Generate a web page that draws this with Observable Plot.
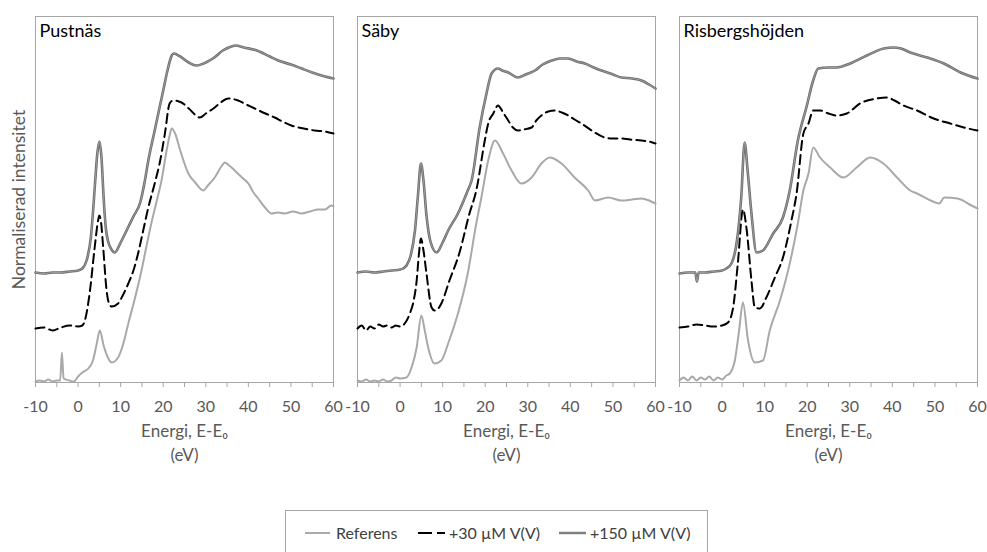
<!DOCTYPE html>
<html>
<head>
<meta charset="utf-8">
<script src="https://cdn.jsdelivr.net/npm/d3@7"></script>
<script src="https://cdn.jsdelivr.net/npm/@observablehq/plot@0.6"></script>
<style>
  html, body { margin: 0; padding: 0; background: #ffffff; width: 987px; height: 552px; overflow: hidden; }
  #wrap { position: relative; width: 987px; height: 552px; }
  #legend { position: absolute; left: 285px; top: 510px; width: 423px; height: 60px; border: 1px solid #a6a6a6; box-sizing: border-box; font-family: Lato, 'Open Sans', sans-serif; font-size: 16px; color: #404040; }
  .item { position: absolute; top: 12px; display: flex; align-items: center; white-space: nowrap; }
  .item svg { margin-right: 3px; }
</style>
</head>
<body>
<div id="wrap"></div>
<script>
const sites = ["Pustnäs", "Säby", "Risbergshöjden"];
const seriesNames = ["Referens", "+30 µM V(V)", "+150 µM V(V)"];
const xTicks = [-10, -5, 0, 5, 10, 15, 20, 25, 30, 35, 40, 45, 50, 55, 60];
const xTickLabels = ["-10", "", "0", "", "10", "", "20", "", "30", "", "40", "", "50", "", "60"];
const xTitle = "Energi, E-E₀\n(eV)";
const yTitle = "Normaliserad intensitet";

// Pustnäs
const pustnasRef = [[-10,0.01],[-9,0.02],[-8,0.01],[-7,0.03],[-6,0.01],[-5,0.02],[-4.2,0.02],[-3.8,0.30],[-3.4,0.04],[-2,0.02],[-1,0.01],[0,0.06],[1,0.10],[2.4,0.14],[3.5,0.22],[4.3,0.37],[5.1,0.52],[6,0.37],[7,0.25],[7.9,0.20],[9.4,0.25],[10.5,0.37],[11.8,0.59],[13.4,0.85],[14.9,1.12],[16,1.35],[17.2,1.59],[18.5,1.82],[19.6,2.02],[20.8,2.32],[21.5,2.47],[22,2.54],[22.8,2.49],[24,2.32],[25.9,2.09],[27.5,2.00],[29.4,1.92],[30.5,1.97],[32.1,2.05],[33.5,2.15],[34.5,2.20],[35.5,2.17],[36.8,2.12],[38.5,2.05],[40,1.99],[41.2,1.90],[42.3,1.84],[43.9,1.75],[45.4,1.69],[47,1.70],[48.5,1.69],[50.5,1.71],[52.5,1.69],[54.5,1.71],[56.4,1.73],[58,1.73],[59.5,1.77],[60,1.76]];
const pustnasV30 = [[-10,0.54],[-8,0.55],[-6,0.52],[-4,0.55],[-2,0.57],[0,0.56],[1,0.57],[1.6,0.62],[2.8,0.92],[3.9,1.35],[4.7,1.62],[5,1.67],[5.4,1.60],[5.9,1.35],[6.7,0.92],[7.5,0.77],[7.9,0.76],[9.4,0.79],[10.5,0.87],[11.8,0.99],[13,1.12],[14.1,1.29],[15.3,1.52],[16.5,1.75],[18,1.99],[19.2,2.20],[20.4,2.49],[21.5,2.79],[22.3,2.82],[24.3,2.80],[26,2.74],[28.6,2.65],[30,2.69],[32.1,2.75],[33.5,2.80],[35.3,2.84],[37.6,2.82],[39.5,2.78],[41.5,2.74],[44,2.69],[46.2,2.65],[48,2.61],[50.1,2.57],[53,2.54],[55.6,2.52],[58,2.51],[60,2.49]];
const pustnasV150 = [[-10,1.10],[-8,1.09],[-6,1.10],[-4,1.10],[-2,1.11],[0,1.12],[1,1.14],[2,1.22],[3,1.45],[3.5,1.70],[4,2.00],[4.5,2.28],[5,2.41],[5.5,2.25],[6,1.85],[6.5,1.55],[7,1.42],[8,1.32],[8.6,1.30],[10,1.40],[11.4,1.52],[13,1.66],[14.6,1.80],[15.7,2.02],[16.5,2.22],[18,2.52],[20,2.92],[21,3.12],[22,3.27],[22.5,3.29],[24,3.26],[26,3.20],[27.8,3.17],[30,3.20],[32,3.25],[34,3.32],[36,3.36],[37,3.37],[39,3.35],[42,3.32],[45,3.26],[47,3.22],[50,3.18],[52.5,3.14],[55,3.10],[58,3.06],[60,3.04]];

// Säby
const sabyRef = [[-10,0.02],[-9,0.01],[-8,0.03],[-7,0.01],[-6,0.02],[-5,0.01],[-4,0.03],[-3,0.01],[-2,0.02],[-1,0.05],[0,0.04],[1.5,0.05],[2.7,0.15],[3.9,0.35],[5,0.67],[5.8,0.52],[6.6,0.35],[8.1,0.19],[9.7,0.22],[11.3,0.39],[13.6,0.69],[15.9,1.09],[17.9,1.59],[19.1,1.85],[20.7,2.22],[22.3,2.42],[24.2,2.29],[26.2,2.12],[28.5,1.99],[30.9,2.05],[33.2,2.19],[35.2,2.25],[37.9,2.19],[41,2.05],[44.2,1.92],[45.8,1.82],[48.9,1.85],[52,1.82],[54.5,1.83],[56.7,1.84],[58.5,1.82],[60,1.79]];
const sabyV30 = [[-10,0.54],[-9,0.57],[-8,0.52],[-7,0.56],[-6,0.54],[-5,0.58],[-4,0.56],[-3,0.57],[-2,0.55],[-1,0.57],[0,0.56],[1.1,0.59],[2.3,0.69],[3.2,0.82],[3.9,1.02],[4.4,1.27],[4.9,1.44],[5.5,1.32],[6.2,1.09],[7.4,0.75],[8.1,0.72],[9,0.74],[9.7,0.79],[11.6,1.02],[13.9,1.29],[16.3,1.69],[17.9,1.92],[19.9,2.42],[20.7,2.59],[21.9,2.69],[23,2.77],[24.2,2.70],[25.4,2.62],[26.5,2.55],[27.7,2.52],[29,2.53],[30.9,2.55],[32,2.62],[33.2,2.67],[34.8,2.71],[36.3,2.72],[38,2.70],[39.5,2.67],[41,2.63],[42.6,2.59],[45,2.52],[48.1,2.45],[50,2.44],[52,2.44],[54,2.43],[56.7,2.42],[58.5,2.41],[60,2.39]];
const sabyV150 = [[-10,1.10],[-8,1.11],[-6,1.10],[-4,1.11],[-2,1.12],[0,1.13],[0.7,1.14],[1.5,1.17],[2.5,1.27],[3.5,1.52],[4.2,1.87],[4.9,2.19],[5.5,2.02],[6.2,1.67],[7.2,1.40],[8.6,1.30],[10,1.40],[11.3,1.52],[13.6,1.69],[15.9,1.92],[16.8,2.02],[18.7,2.55],[20.3,2.89],[21.5,3.09],[23,3.14],[24,3.12],[25.4,3.10],[27.7,3.05],[29.5,3.08],[31.7,3.12],[33.5,3.18],[35.6,3.22],[37.5,3.24],[39.5,3.24],[41.5,3.21],[43.4,3.19],[45.5,3.15],[47.3,3.12],[50,3.08],[52,3.05],[54.5,3.04],[56.7,3.02],[58.5,2.98],[60,2.94]];

// Risbergshöjden
const risbRef = [[-10,0.02],[-9,0.05],[-8,0.02],[-7,0.06],[-6,0.02],[-5,0.05],[-4,0.03],[-3,0.06],[-2,0.02],[-1,0.05],[0,0.03],[1,0.07],[1.8,0.09],[3,0.22],[4,0.52],[4.9,0.80],[6.1,0.42],[7.7,0.20],[9.6,0.22],[11.2,0.52],[13.6,0.82],[15.9,1.19],[17.8,1.59],[19.1,1.92],[20.3,2.09],[21.4,2.35],[23,2.25],[25.4,2.15],[28.5,2.05],[31.6,2.15],[34.8,2.25],[37.9,2.19],[41.1,2.05],[44.2,1.92],[45.8,1.89],[49,1.82],[51,1.79],[52.2,1.85],[55.3,1.84],[58.6,1.77],[60,1.74]];
const risbV30 = [[-10,0.55],[-8,0.56],[-6,0.58],[-4,0.57],[-2,0.56],[0,0.57],[1.4,0.60],[2.6,0.75],[3.7,1.19],[4.9,1.73],[5.8,1.52],[6.9,1.02],[7.7,0.75],[8.9,0.74],[10.4,0.85],[12.4,1.05],[14.3,1.25],[16.3,1.62],[17.5,1.89],[19.1,2.49],[20.3,2.59],[21.4,2.72],[23,2.72],[25,2.69],[26.9,2.67],[29.3,2.69],[32.4,2.79],[36.4,2.84],[38.7,2.85],[40.5,2.82],[42.6,2.77],[45.8,2.72],[49.7,2.64],[53.6,2.59],[56.8,2.55],[60,2.52]];
const risbV150 = [[-10,1.09],[-8,1.10],[-6.3,1.10],[-5.9,1.01],[-5.5,1.10],[-4,1.10],[-2,1.11],[0,1.12],[1,1.14],[2.2,1.19],[3.5,1.42],[4.5,1.85],[5.3,2.40],[6,2.12],[6.9,1.69],[8.1,1.30],[9.6,1.32],[12,1.49],[14.3,1.65],[15.9,1.92],[17.8,2.42],[19.8,2.75],[21.4,3.02],[22.6,3.14],[25,3.15],[26.9,3.15],[30.1,3.19],[34,3.27],[38,3.34],[40.3,3.35],[42,3.34],[44.2,3.30],[48.2,3.25],[52.1,3.19],[56,3.10],[60,3.04]];

const curves = [
  [sites[0], seriesNames[0], pustnasRef], [sites[0], seriesNames[1], pustnasV30], [sites[0], seriesNames[2], pustnasV150],
  [sites[1], seriesNames[0], sabyRef], [sites[1], seriesNames[1], sabyV30], [sites[1], seriesNames[2], sabyV150],
  [sites[2], seriesNames[0], risbRef], [sites[2], seriesNames[1], risbV30], [sites[2], seriesNames[2], risbV150]
];
const rows = [];
for (const [site, series, pts] of curves) for (const [e, i] of pts) rows.push({site, series, e, i});
const bySeries = s => rows.filter(r => r.series === s);
const tickLabelOf = new Map(xTicks.map((t, k) => [t, xTickLabels[k]]));

const chart = Plot.plot({
  width: 987,
  height: 500,
  marginLeft: 34,
  marginRight: 10,
  marginTop: 16,
  marginBottom: 118,
  style: {fontFamily: "Lato, 'Open Sans', sans-serif", fontSize: "16px", color: "#595959", background: "#ffffff"},
  fx: {domain: sites, paddingInner: 0.076, paddingOuter: 0, axis: null, label: null},
  x: {domain: [-10, 60]},
  y: {domain: [0, 3.66], axis: null},
  marks: [
    Plot.frame({stroke: "#a6a6a6"}),
    Plot.axisX({ticks: xTicks, tickFormat: d => tickLabelOf.get(d), tickSize: 5, tickPadding: 13, stroke: "#a6a6a6", fill: "#595959", fontSize: 16, label: null}),
    Plot.line(bySeries(seriesNames[0]), {x: "e", y: "i", fx: "site", stroke: "#a9a9a9", strokeWidth: 2, curve: "monotone-x"}),
    Plot.line(bySeries(seriesNames[1]), {x: "e", y: "i", fx: "site", stroke: "#000000", strokeWidth: 2, strokeDasharray: "9,5", curve: "monotone-x"}),
    Plot.line(bySeries(seriesNames[2]), {x: "e", y: "i", fx: "site", stroke: "#6b6b6b", strokeWidth: 2.6, curve: "monotone-x"}),
    Plot.line(bySeries(seriesNames[2]), {x: "e", y: "i", fx: "site", stroke: "#b0b0b0", strokeWidth: 0.7, curve: "monotone-x"}),
    Plot.text(sites, {fx: d => d, text: d => d, frameAnchor: "top-left", textAnchor: "start", lineAnchor: "top", dx: 4, dy: 8, fontSize: 18, fill: "#000000"}),
    Plot.text(sites, {fx: d => d, text: () => xTitle, frameAnchor: "bottom", textAnchor: "middle", lineAnchor: "top", dy: 38, lineHeight: 1.4, fontSize: 17, fill: "#595959"}),
    Plot.text([sites[0]], {fx: d => d, text: () => yTitle, frameAnchor: "left", textAnchor: "middle", lineAnchor: "middle", rotate: -90, dx: -16, fontSize: 17.5, fill: "#595959"})
  ]
});

const wrap = document.getElementById("wrap");
wrap.appendChild(chart);

const legend = document.createElement("div");
legend.id = "legend";
const items = [
  {name: seriesNames[0], left: 19, swatch: '<line x1="0" y1="6" x2="25" y2="6" stroke="#a9a9a9" stroke-width="2"/>'},
  {name: seriesNames[1], left: 132, swatch: '<line x1="0" y1="6" x2="27" y2="6" stroke="#000" stroke-width="2" stroke-dasharray="14,5"/>'},
  {name: seriesNames[2], left: 273, swatch: '<line x1="0" y1="6" x2="27" y2="6" stroke="#6b6b6b" stroke-width="2.4"/><line x1="0" y1="6" x2="27" y2="6" stroke="#b0b0b0" stroke-width="0.6"/>'}
];
for (const it of items) {
  const d = document.createElement("div");
  d.className = "item";
  d.style.left = it.left + "px";
  d.innerHTML = `<svg width="28" height="12">${it.swatch}</svg><span>${it.name}</span>`;
  legend.appendChild(d);
}
wrap.appendChild(legend);
</script>
</body>
</html>
